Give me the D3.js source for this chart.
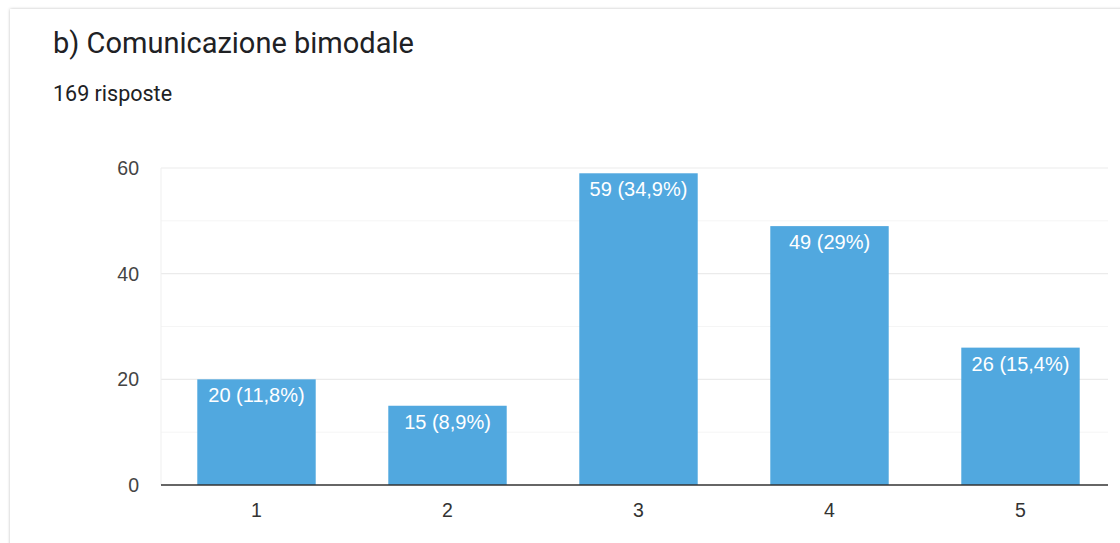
<!DOCTYPE html>
<html>
<head>
<meta charset="utf-8">
<script src="https://cdn.jsdelivr.net/npm/d3@7"></script>
<style>
  html, body { margin: 0; padding: 0; background: #ffffff; }
  svg { display: block; }
</style>
</head>
<body>
<svg id="chart" width="1120" height="543"></svg>
<script>
// Survey answers (scale 1-5)
const categories = ["1", "2", "3", "4", "5"];
const counts = [20, 15, 59, 49, 26];
const percentLabels = ["11,8%", "8,9%", "34,9%", "29%", "15,4%"];
const yTicks = [0, 20, 40, 60];
const yMinorTicks = [10, 30, 50];
const titleText = "b) Comunicazione bimodale";
const subtitleText = "169 risposte";

const svg = d3.select("#chart");
const headFont = "Roboto, 'Noto Sans', Arial, sans-serif";
const axisFont = "'Liberation Sans', Arial, sans-serif";

// Card background with soft shadow
const defs = svg.append("defs");
const f = defs.append("filter").attr("id", "shadow")
  .attr("x", "-5%").attr("y", "-5%").attr("width", "110%").attr("height", "110%");
f.append("feDropShadow").attr("dx", 0).attr("dy", 0).attr("stdDeviation", 1.6)
  .attr("flood-color", "#000").attr("flood-opacity", 0.25);

svg.append("rect")
  .attr("x", 10).attr("y", 9).attr("width", 1125).attr("height", 560)
  .attr("fill", "#fff").attr("filter", "url(#shadow)");

// Titles
svg.append("text").attr("x", 53).attr("y", 53)
  .attr("font-family", headFont).attr("font-size", 29).attr("fill", "#202124")
  .text(titleText);
svg.append("text").attr("x", 53).attr("y", 101)
  .attr("font-family", headFont).attr("font-size", 21.5).attr("fill", "#202124")
  .text(subtitleText);

// Scales
const plotLeft = 161, plotRight = 1108;
const y = d3.scaleLinear().domain([0, 60]).range([485, 168]);
const x = d3.scaleBand().domain(categories).range([161, 1116])
  .paddingInner(0.38).paddingOuter(0.19);

// Gridlines
svg.append("g").selectAll("line").data(yMinorTicks).join("line")
  .attr("x1", plotLeft).attr("x2", plotRight)
  .attr("y1", d => y(d)).attr("y2", d => y(d))
  .attr("stroke", "#f5f5f5").attr("stroke-width", 1);
svg.append("g").selectAll("line").data(yTicks.filter(d => d > 0)).join("line")
  .attr("x1", plotLeft).attr("x2", plotRight)
  .attr("y1", d => y(d)).attr("y2", d => y(d))
  .attr("stroke", "#ebebeb").attr("stroke-width", 1.2);
svg.append("line")
  .attr("x1", plotLeft).attr("x2", plotLeft)
  .attr("y1", y(60)).attr("y2", y(0))
  .attr("stroke", "#efefef").attr("stroke-width", 1);

// Y tick labels
svg.append("g").selectAll("text").data(yTicks).join("text")
  .attr("x", 139).attr("y", d => y(d) + 7)
  .attr("text-anchor", "end")
  .attr("font-family", axisFont).attr("font-size", 19.5).attr("fill", "#444")
  .text(d => d);

// Bars
svg.append("g").selectAll("rect").data(counts).join("rect")
  .attr("x", (d, i) => x(categories[i]))
  .attr("y", d => y(d))
  .attr("width", x.bandwidth())
  .attr("height", d => y(0) - y(d))
  .attr("fill", "#51a8df");

// Bar value labels
svg.append("g").selectAll("text").data(counts).join("text")
  .attr("x", (d, i) => x(categories[i]) + x.bandwidth() / 2)
  .attr("y", d => y(d) + 23)
  .attr("text-anchor", "middle")
  .attr("font-family", axisFont).attr("font-size", 20).attr("fill", "#fff")
  .text((d, i) => `${d} (${percentLabels[i]})`);

// Baseline
svg.append("line")
  .attr("x1", plotLeft).attr("x2", plotRight)
  .attr("y1", y(0)).attr("y2", y(0))
  .attr("stroke", "#333").attr("stroke-width", 1.5);

// X category labels
svg.append("g").selectAll("text").data(categories).join("text")
  .attr("x", d => x(d) + x.bandwidth() / 2)
  .attr("y", 517)
  .attr("text-anchor", "middle")
  .attr("font-family", axisFont).attr("font-size", 19.5).attr("fill", "#333")
  .text(d => d);
</script>
</body>
</html>
